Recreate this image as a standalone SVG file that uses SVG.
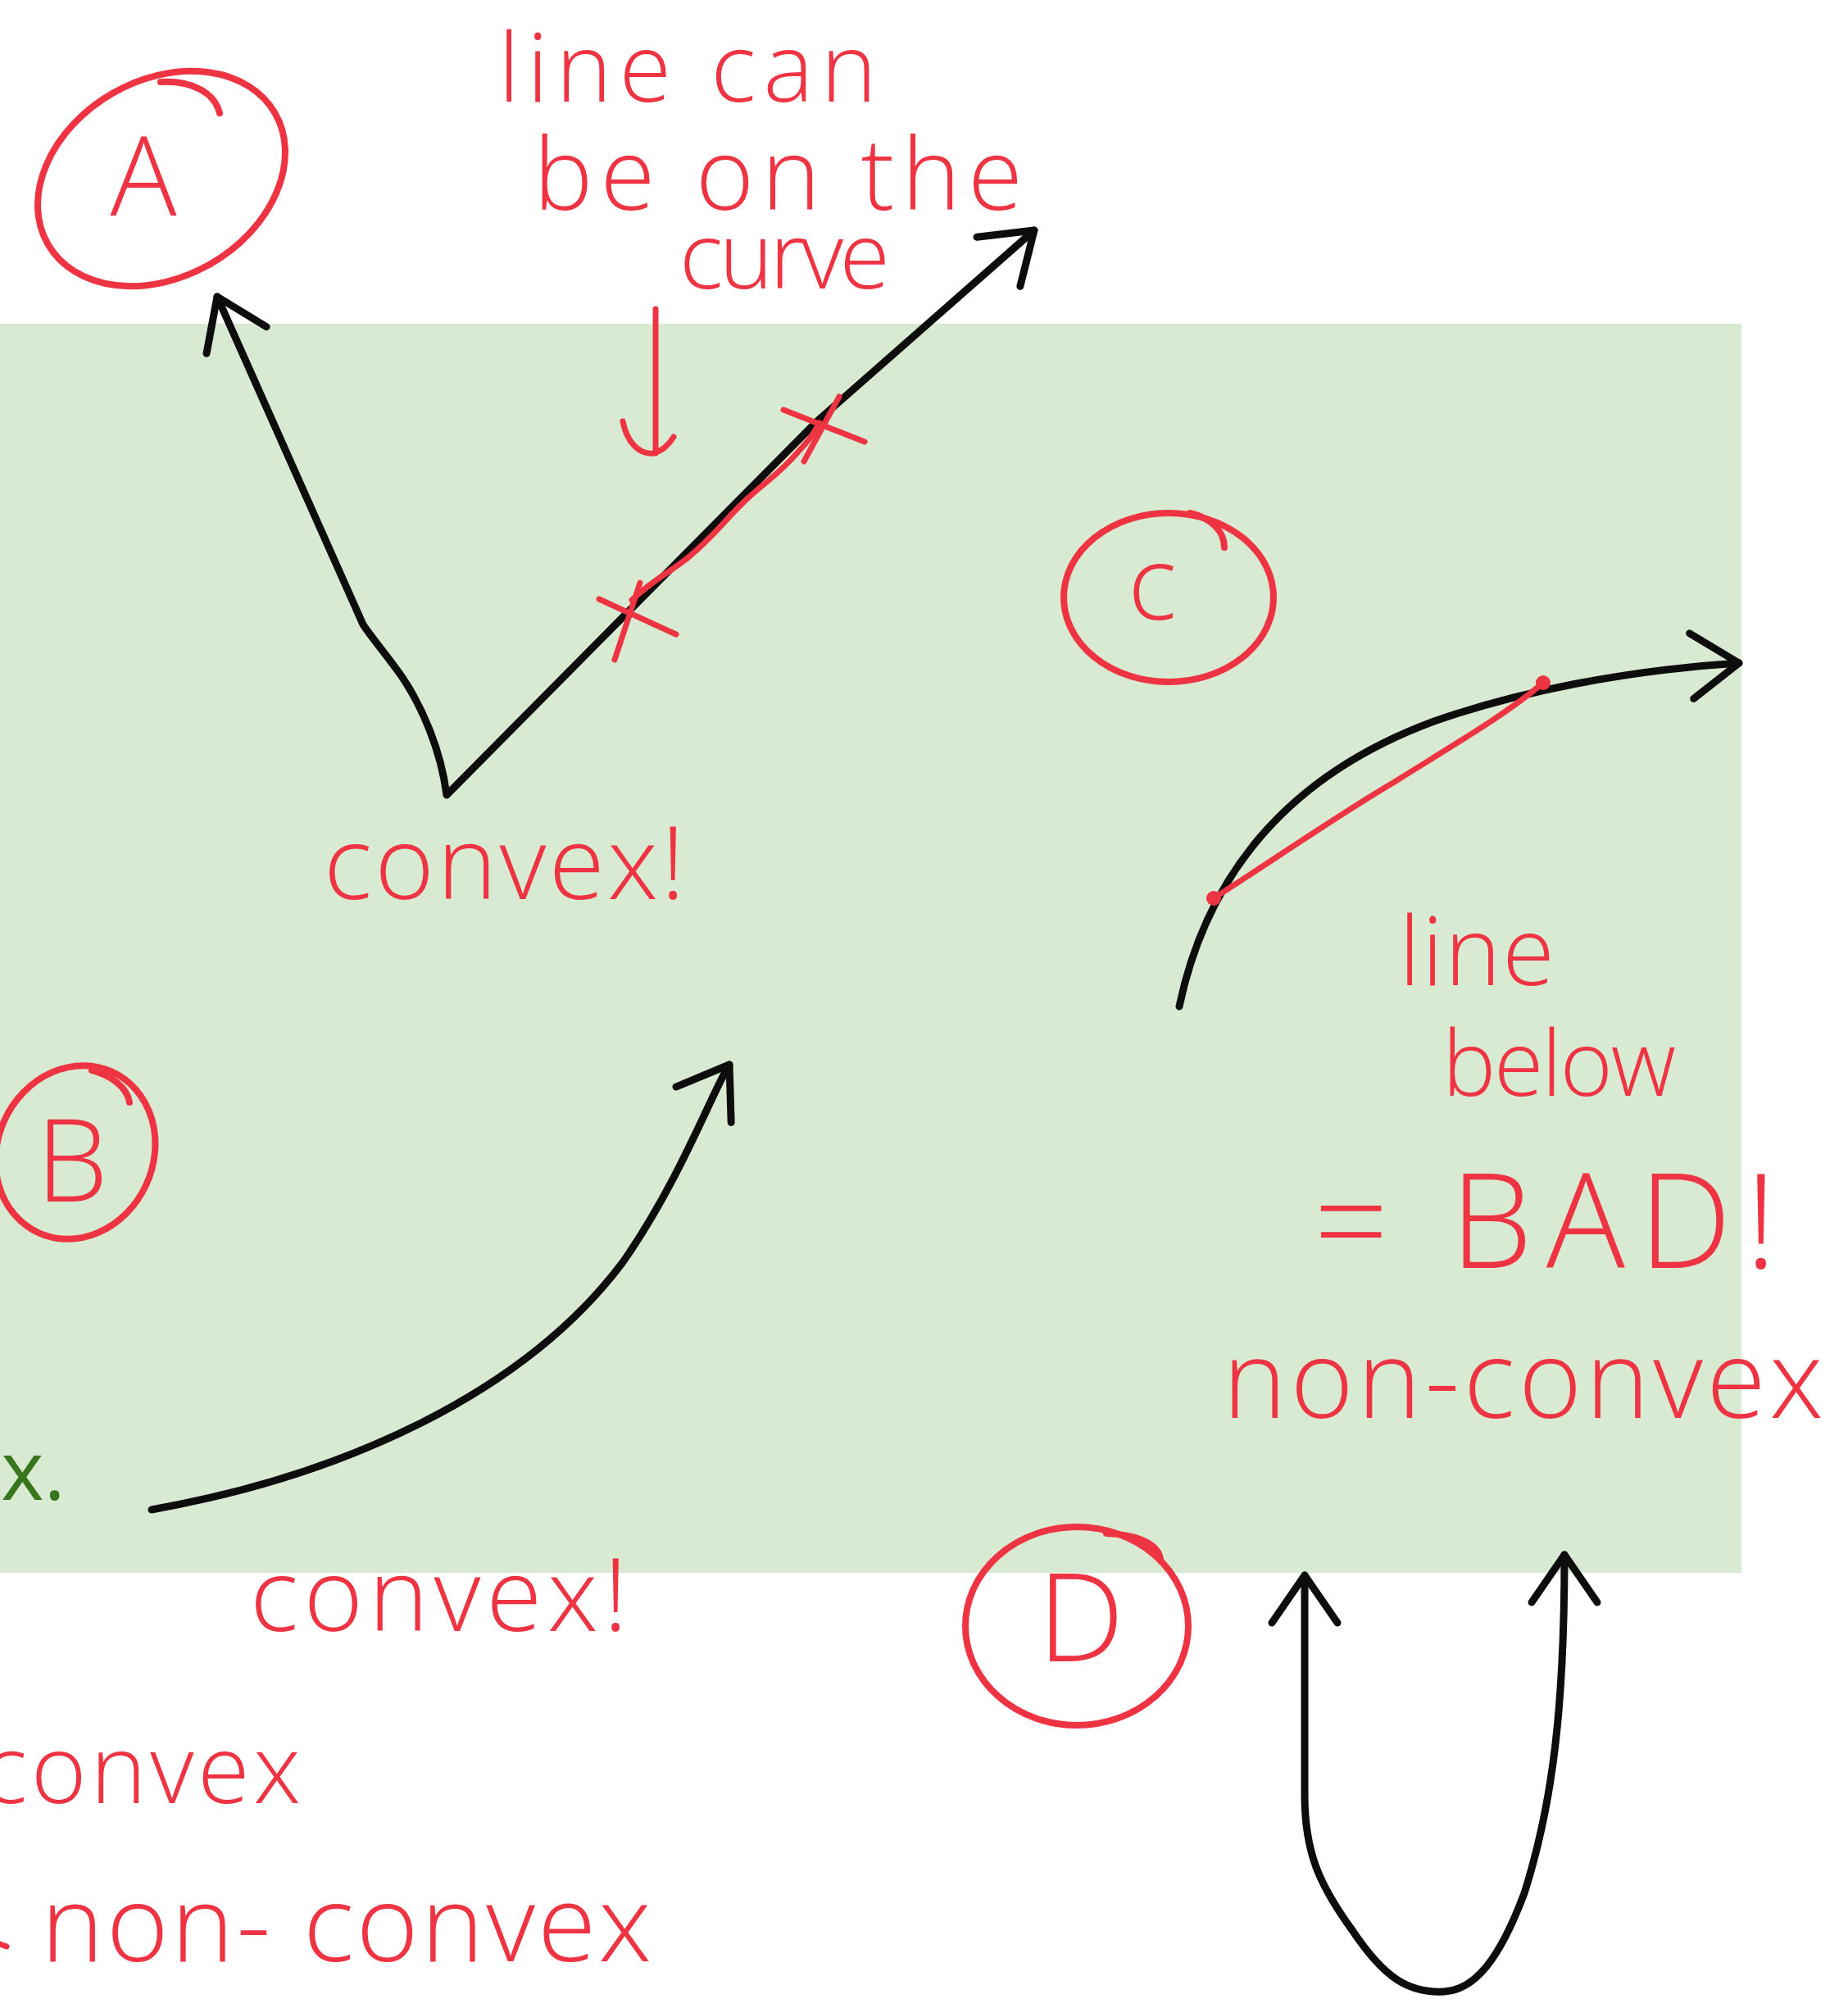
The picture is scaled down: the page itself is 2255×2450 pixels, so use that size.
<svg xmlns="http://www.w3.org/2000/svg" width="2255" height="2450" viewBox="0 0 2255 2450">
<style>
.hw{fill:#ee3442;font-family:"Open Sans","Liberation Sans",sans-serif;font-weight:300}
.ring{fill:none;stroke:#ee3442;stroke-width:8;stroke-linecap:round}
.rl{fill:none;stroke:#ee3442;stroke-width:7;stroke-linecap:round;stroke-linejoin:round}
.ink{fill:none;stroke:#0d0d0d;stroke-width:9;stroke-linecap:round;stroke-linejoin:round}
.doc{fill:#38761d;font-family:"Open Sans","Liberation Sans",sans-serif}
</style>
<defs>
<marker id="ah" markerUnits="userSpaceOnUse" viewBox="-80 -60 100 120" markerWidth="100" markerHeight="120" refX="0" refY="0" orient="auto-start-reverse" overflow="visible">
<path d="M-58,-40 L0,0 L-58,40" fill="none" stroke="#0d0d0d" stroke-width="9" stroke-linecap="round" stroke-linejoin="round"/>
</marker>
</defs>
<rect width="2255" height="2450" fill="#ffffff"/>
<rect id="panel" x="0" y="395" width="2125" height="1524" fill="#d9ead3"/>
<text class="doc" x="-55" y="1830" font-size="100">ex.</text>

<g id="connectors">
<path id="curve-A" class="ink" d="M265,362 L443,762 C455,780 470,797 490,825 C515,862 538,915 545,970 L759,754 L997,514 L1262,281" marker-start="url(#ah)" marker-end="url(#ah)"/>
<path id="curve-B" class="ink" d="M185,1842 C420,1800 640,1700 760,1540 C830,1440 870,1330 890,1299" marker-end="url(#ah)"/>
<path id="curve-C" class="ink" d="M1439,1228 C1470,1080 1560,950 1750,880 C1850,845 1980,818 2122,809" marker-end="url(#ah)"/>
<path id="curve-D" class="ink" d="M1592,1922 L1592,2190 C1592,2260 1610,2300 1650,2355 C1690,2415 1720,2432 1762,2430 C1800,2428 1830,2390 1860,2310 C1895,2200 1909,2080 1909,1897" marker-start="url(#ah)" marker-end="url(#ah)"/>
</g>

<g id="node-A">
<ellipse class="ring" cx="197" cy="218" rx="160" ry="120" transform="rotate(-30 197 218)"/>
<path class="ring" d="M196,100 C232,98 262,112 268,138"/>
<text class="hw" x="175" y="263" font-size="135" text-anchor="middle">A</text>
</g>

<g id="note-A">
<text class="hw" x="608" y="124" font-size="116" textLength="462">line can</text>
<text class="hw" x="651" y="256" font-size="122" textLength="597">be on the</text>
<text class="hw" x="829" y="352" font-size="112" textLength="257">curve</text>
<path class="rl" d="M800,377 L800,553 M760,514 C765,540 780,555 798,553 C808,550 816,543 822,533"/>
<path class="rl" d="M731,731 L825,774 M750,805 L781,711 M956,500 L1055,539 M981,563 L1024,484"/>
<path class="rl" d="M771,732 C800,705 815,700 840,680 C870,655 880,640 905,615 C930,590 950,580 975,550 C990,535 995,525 1000,516"/>
<text class="hw" x="395" y="1097" font-size="124" textLength="441">convex!</text>
</g>

<g id="node-B">
<ellipse class="ring" cx="92" cy="1406" rx="95" ry="108" transform="rotate(25 92 1406)"/>
<path class="ring" d="M112,1306 C135,1312 155,1326 158,1345"/>
<text class="hw" x="88" y="1466" font-size="140" text-anchor="middle">B</text>
<text class="hw" x="305" y="1990" font-size="124" textLength="461">convex!</text>
</g>

<g id="node-C">
<ellipse class="ring" cx="1426" cy="729" rx="128" ry="103"/>
<path class="ring" d="M1452,626 C1478,632 1494,648 1494,668"/>
<text class="hw" x="1406" y="756" font-size="125" text-anchor="middle">c</text>
<path class="rl" d="M1481,1096 C1560,1045 1640,990 1700,955 C1780,905 1840,870 1883,833"/>
<circle cx="1481" cy="1096" r="9" fill="#ee3442"/>
<circle cx="1883" cy="833" r="9" fill="#ee3442"/>
<text class="hw" x="1707" y="1202" font-size="116" textLength="190">line</text>
<text class="hw" x="1760" y="1337" font-size="110" textLength="285">below</text>
<text class="hw" x="1603" y="1547" font-size="160" textLength="565">= BAD!</text>
<text class="hw" x="1492" y="1730" font-size="132" textLength="733">non-convex</text>
</g>

<g id="node-D">
<ellipse class="ring" cx="1314" cy="1984" rx="136" ry="121"/>
<path class="ring" d="M1350,1871 C1380,1872 1412,1880 1416,1902"/>
<text class="hw" x="1319" y="2027" font-size="150" text-anchor="middle">D</text>
</g>

<g id="legend">
<text class="hw" x="-22" y="2200" font-size="116" textLength="389">convex</text>
<path class="rl" d="M0,2372 L8,2375"/>
<text class="hw" x="50" y="2393" font-size="130" textLength="745">non- convex</text>
</g>
</svg>
